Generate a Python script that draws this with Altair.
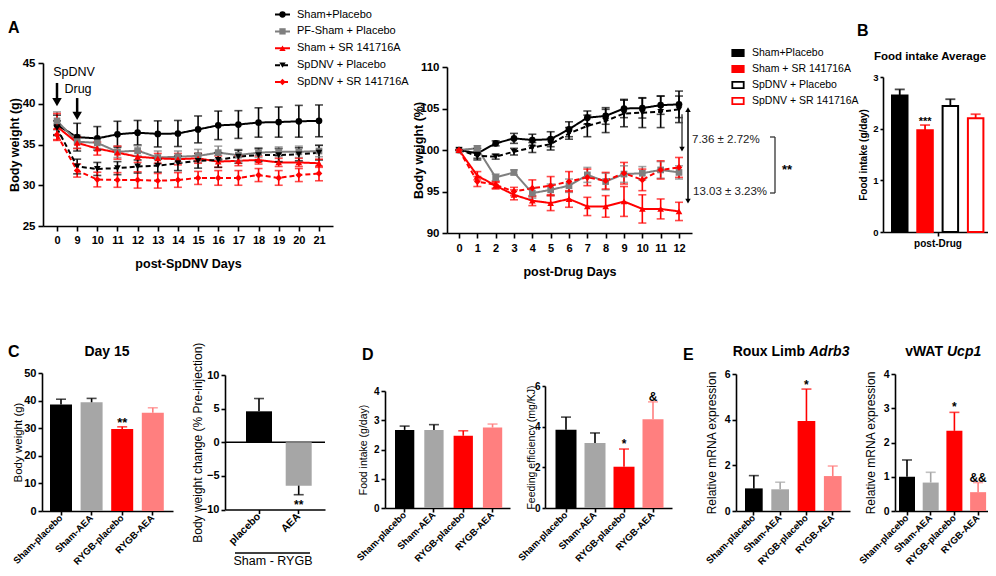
import altair as alt
import pandas as pd

FONT = "Liberation Sans"
W, H = 980, 560

# ---------------- Panel A (left): body weight after SpDNV ----------------
a_days = ["0", "9", "10", "11", "12", "13", "14", "15", "16", "17", "18", "19", "20", "21"]
a_series = ["Sham+Placebo", "PF-Sham + Placebo", "Sham + SR 141716A",
            "SpDNV + Placebo", "SpDNV + SR 141716A"]
a_sham_placebo = [37.4, 35.9, 35.75, 36.25, 36.45, 36.3, 36.35, 36.85, 37.35, 37.45, 37.7, 37.75, 37.85, 37.9]
a_sham_placebo_err = [1.2, 1.7, 1.45, 1.6, 1.5, 1.6, 1.6, 1.65, 1.75, 1.7, 1.8, 1.85, 1.95, 1.95]
a_pf_sham = [37.9, 35.35, 35.2, 34.1, 34.25, 33.4, 33.5, 33.6, 34.0, 33.7, 34.0, 34.1, 34.1, 34.2]
a_pf_sham_err = [1.1, 0.8, 0.7, 0.7, 0.6, 0.8, 0.7, 0.8, 0.8, 0.7, 0.6, 0.6, 0.7, 0.7]
a_sham_sr = [37.2, 35.2, 34.5, 34.0, 33.5, 33.3, 33.2, 33.3, 32.9, 33.0, 33.1, 32.8, 32.8, 32.7]
a_sham_sr_err = [1.6, 0.7, 0.8, 0.8, 0.7, 0.6, 0.7, 0.6, 0.7, 0.6, 0.5, 0.5, 0.5, 0.5]
a_spdnv_placebo = [37.0, 32.3, 32.0, 32.1, 32.3, 32.4, 32.7, 33.0, 33.1, 33.5, 33.7, 33.7, 33.8, 34.0]
a_spdnv_placebo_err = [0.9, 0.9, 0.8, 0.8, 0.8, 0.8, 0.9, 0.9, 0.9, 0.8, 0.8, 0.8, 0.8, 0.9]
a_spdnv_sr = [36.2, 31.8, 30.7, 30.65, 30.65, 30.55, 30.65, 30.9, 30.9, 30.9, 31.25, 30.9, 31.25, 31.45]
a_spdnv_sr_err = [0.7, 0.8, 0.9, 0.9, 1.0, 0.9, 0.9, 0.8, 0.9, 0.9, 0.8, 0.9, 0.8, 0.9]

# ---------------- Panel A (right): body weight (%) after drug ----------------
ar_days = ["0", "1", "2", "3", "4", "5", "6", "7", "8", "9", "10", "11", "12"]
ar_sham_placebo = [100, 99.6, 100.8, 101.4, 101.2, 101.3, 102.5, 103.9, 104.1, 105.0, 105.05, 105.4, 105.5]
ar_sham_placebo_err = [0, 0.6, 0.3, 0.6, 0.7, 0.9, 0.9, 0.8, 1.0, 1.1, 1.2, 1.1, 1.6]
ar_pf_sham = [100, 100.2, 96.7, 97.3, 94.8, 95.2, 95.7, 97.0, 96.2, 97.1, 97.2, 97.6, 97.3]
ar_pf_sham_err = [0, 0.3, 0.4, 0.3, 0.6, 0.7, 0.8, 0.9, 1.0, 1.0, 0.8, 1.0, 0.8]
ar_sham_sr = [100, 96.9, 95.7, 94.6, 93.9, 93.6, 94.1, 93.2, 93.2, 93.8, 92.9, 92.9, 92.6]
ar_sham_sr_err = [0, 0.5, 0.4, 0.6, 0.6, 0.9, 1.0, 1.1, 1.3, 1.8, 1.7, 1.2, 1.1]
ar_spdnv_placebo = [100, 99.3, 99.2, 99.8, 100.3, 100.7, 102.0, 102.9, 103.5, 104.4, 104.5, 104.6, 104.9]
ar_spdnv_placebo_err = [0, 0.5, 0.3, 0.4, 0.6, 0.7, 0.7, 1.3, 1.4, 1.6, 1.8, 1.9, 1.6]
ar_spdnv_sr = [100, 96.2, 95.8, 95.0, 95.4, 95.7, 96.2, 96.7, 96.3, 97.2, 96.4, 97.6, 97.9]
ar_spdnv_sr_err = [0, 0.6, 0.4, 0.5, 1.0, 1.1, 1.2, 1.0, 1.0, 1.3, 1.3, 1.1, 1.2]
ar_legend = ["Sham+Placebo", "Sham + SR 141716A", "SpDNV + Placebo", "SpDNV + SR 141716A"]
ar_notes = ["7.36 \u00b1 2.72%", "13.03 \u00b1 3.23%"]

# ---------------- Panel B: food intake average ----------------
b_groups = ["Sham+Placebo", "Sham + SR 141716A", "SpDNV + Placebo", "SpDNV + SR 141716A"]
b_means = [2.64, 1.97, 2.44, 2.20]
b_errs = [0.12, 0.10, 0.13, 0.08]
b_sig = ["", "***", "", ""]

# ---------------- Panels C-E ----------------
ce_groups = ["Sham-placebo", "Sham-AEA", "RYGB-placebo", "RYGB-AEA"]
c_means = [38.6, 39.4, 29.7, 35.6]
c_errs = [1.9, 1.4, 0.8, 1.8]
c_sig = ["", "", "**", ""]
c2_groups = ["placebo", "AEA"]
c2_means = [4.6, -6.45]
c2_errs = [1.9, 1.35]
c2_sig = ["", "**"]
d1_means = [2.67, 2.67, 2.47, 2.75]
d1_errs = [0.13, 0.18, 0.17, 0.12]
d1_sig = ["", "", "", ""]
d2_means = [3.85, 3.2, 2.03, 4.37]
d2_errs = [0.62, 0.49, 0.87, 0.85]
d2_sig = ["", "", "*", "&"]
e1_means = [0.99, 0.95, 3.94, 1.53]
e1_errs = [0.56, 0.31, 1.4, 0.44]
e1_sig = ["", "", "*", ""]
e2_means = [1.0, 0.83, 2.34, 0.55]
e2_errs = [0.49, 0.3, 0.54, 0.28]
e2_sig = ["", "", "*", "&&"]

BLACK, GRAY, RED, PINK, LGRAY = "#000000", "#7f7f7f", "#ff0000", "#ff7f7f", "#a6a6a6"


# ---------------- helpers ----------------
def point_scale(domain, r0, r1, first, last):
    n = len(domain)
    step = (last - first) / (n - 1)
    pad = ((r1 - r0) / step - (n - 1)) / 2
    align = (first - r0) / ((r1 - r0) - step * (n - 1))
    return alt.Scale(type="point", domain=domain, range=[r0, r1], padding=pad, align=align, round=False)


def band_scale(domain, r0, r1, left, w, s):
    n = len(domain)
    pi = 1 - w / s
    po = ((r1 - r0) / s - (n - pi)) / 2
    align = (left - r0) / ((r1 - r0) - s * (n - pi))
    return alt.Scale(type="band", domain=domain, range=[r0, r1], paddingInner=pi,
                     paddingOuter=po, align=align, round=False)


def lin(domain, ybot, ytop):
    return alt.Scale(domain=domain, range=[ybot, ytop], nice=False, zero=False)


def yaxis(x0, values, title, title_x, tsize, tweight="normal", lsize=11, tick=5, lpad=2):
    return alt.Axis(orient="left", offset=-x0, values=values, title=title, titleX=title_x,
                    titleFontSize=tsize, titleFontWeight=tweight, labelFontSize=lsize,
                    labelFontWeight="bold", tickSize=tick, labelPadding=lpad, format="d")


def xaxis(y0, title=None, angle=0, lsize=11, tick=5, lpad=3, title_y=None, tsize=12):
    kw = dict(orient="bottom", offset=y0 - H, labelAngle=angle, labelFontSize=lsize,
              labelFontWeight="bold", tickSize=tick, labelPadding=lpad)
    if title is not None:
        kw.update(title=title, titleFontSize=tsize, titleFontWeight="bold")
        if title_y is not None:
            kw.update(titleY=title_y)
    else:
        kw.update(title=None)
    if angle:
        kw.update(labelAlign="right", labelBaseline="middle")
    return alt.Axis(**kw)


ONE = pd.DataFrame({"k": [0]})


def label(text, x, y, size=12, weight="normal", align="center", baseline="middle",
          style="normal", color="black"):
    return alt.Chart(pd.DataFrame({"t": [text]})).mark_text(
        font=FONT, fontSize=size, fontWeight=weight, align=align, baseline=baseline,
        fontStyle=style, color=color).encode(text="t:N", x=alt.value(x), y=alt.value(y))


def hline(x1, x2, y, width=1.5, color="black"):
    return alt.Chart(ONE).mark_rule(strokeWidth=width, color=color).encode(
        x=alt.value(x1), x2=alt.value(x2), y=alt.value(y))


def vline(x, y1, y2, width=1.5, color="black"):
    return alt.Chart(ONE).mark_rule(strokeWidth=width, color=color).encode(
        x=alt.value(x), y=alt.value(y1), y2=alt.value(y2))


def long_df(days, series, means, errs):
    rows = []
    for s, m, e in zip(series, means, errs):
        for i, (d, v, er) in enumerate(zip(days, m, e)):
            rows.append(dict(series=s, day=d, idx=i, value=v, lo=v - er, hi=v + er))
    return pd.DataFrame(rows)


A_COLORS = [BLACK, GRAY, RED, BLACK, RED]
A_DASH = [[1, 0], [1, 0], [1, 0], [5, 3], [5, 3]]
A_SHAPES = ["circle", "square", "triangle-up", "triangle-down", "diamond"]


def a_encodings(series):
    col = alt.Color("series:N", scale=alt.Scale(domain=series, range=A_COLORS), legend=None)
    dash = alt.StrokeDash("series:N", scale=alt.Scale(domain=series, range=A_DASH), legend=None)
    shp = alt.Shape("series:N", scale=alt.Scale(domain=series, range=A_SHAPES), legend=None)
    return col, dash, shp


def line_panel(df, xsc, ysc, xax, yax):
    col, dash, shp = a_encodings(a_series)
    base = alt.Chart(df)
    xn = alt.X("day:O", scale=xsc, axis=None)
    lines = base.mark_line(strokeWidth=2).encode(
        x=alt.X("day:O", scale=xsc, axis=xax), y=alt.Y("value:Q", scale=ysc, axis=yax),
        color=col, strokeDash=dash, order="idx:Q")
    rules = base.mark_rule(strokeWidth=1.6).encode(
        x=xn, y=alt.Y("lo:Q", scale=ysc, axis=None), y2="hi:Q", color=col)
    cap_lo = base.mark_tick(size=8, thickness=1.6).encode(
        x=xn, y=alt.Y("lo:Q", scale=ysc, axis=None), color=col)
    cap_hi = base.mark_tick(size=8, thickness=1.6).encode(
        x=xn, y=alt.Y("hi:Q", scale=ysc, axis=None), color=col)
    pts = base.mark_point(filled=True, size=45, opacity=1).encode(
        x=xn, y=alt.Y("value:Q", scale=ysc, axis=None), color=col, shape=shp)
    return [lines, rules, cap_lo, cap_hi, pts]


def bar_panel(groups, means, errs, sigs, xsc, ysc, xax, yax, bar_colors, err_colors,
              sig_dy=0, sig_size=12, cap=10):
    his = [m + e if m >= 0 else m - e for m, e in zip(means, errs)]
    df = pd.DataFrame({"group": groups, "mean": means, "hi": his, "sig": sigs})
    fillc = alt.Color("group:N", scale=alt.Scale(domain=groups, range=bar_colors), legend=None)
    errc = alt.Color("group:N", scale=alt.Scale(domain=groups, range=err_colors), legend=None)
    xn = alt.X("group:N", scale=xsc, axis=None)
    base = alt.Chart(df)
    bars = base.mark_bar().encode(
        x=alt.X("group:N", scale=xsc, axis=xax),
        y=alt.Y("mean:Q", scale=ysc, axis=yax, stack=None), color=fillc)
    rules = base.mark_rule(strokeWidth=1.6).encode(
        x=xn, y=alt.Y("mean:Q", scale=ysc, axis=None), y2="hi:Q", color=errc)
    caps = base.mark_tick(size=cap, thickness=1.6).encode(
        x=xn, y=alt.Y("hi:Q", scale=ysc, axis=None), color=errc)
    sig = base.mark_text(font=FONT, fontWeight="bold", fontSize=sig_size,
                         baseline="alphabetic", dy=sig_dy, color="black").encode(
        x=xn, y=alt.Y("hi:Q", scale=ysc, axis=None), text="sig:N")
    return [bars, rules, caps, sig]


layers = []

# ================= Panel A left =================
xA = point_scale(a_days, 35, 325, 49, 311)
yA = lin([25, 45], 218, 55)
dfA = long_df(a_days, a_series,
              [a_sham_placebo, a_pf_sham, a_sham_sr, a_spdnv_placebo, a_spdnv_sr],
              [a_sham_placebo_err, a_pf_sham_err, a_sham_sr_err, a_spdnv_placebo_err, a_spdnv_sr_err])
layers += line_panel(
    dfA, xA, yA,
    xaxis(218, "post-SpDNV Days", lsize=11, tick=5, lpad=3, title_y=31, tsize=12.5),
    yaxis(35, [25, 30, 35, 40, 45], "Body weight (g)", -22, 12.5, "bold", lsize=11.5, tick=5, lpad=3))

# arrows (SpDNV / Drug)
arrows = pd.DataFrame({"day": ["0", "9"], "top": [42.55, 40.7], "head": [40.2, 38.5]})
layers.append(alt.Chart(arrows).mark_rule(strokeWidth=2.5, color="black").encode(
    x=alt.X("day:O", scale=xA, axis=None), y=alt.Y("top:Q", scale=yA, axis=None), y2="head:Q"))
layers.append(alt.Chart(arrows).mark_point(shape="triangle-down", filled=True, size=90,
                                           color="black", opacity=1).encode(
    x=alt.X("day:O", scale=xA, axis=None), y=alt.Y("head:Q", scale=yA, axis=None)))
layers.append(label("SpDNV", 66, 64, size=12.5))
layers.append(label("Drug", 70, 81, size=12.5))
layers.append(label("A", 0, 20, size=16, weight="bold", align="left"))

# legend for A left
colL, dashL, shpL = a_encodings(a_series)
legA = pd.DataFrame({"series": a_series})
yLeg = alt.Scale(type="point", domain=a_series, range=[6.5, 74], padding=0)
layers.append(alt.Chart(legA).mark_rule(strokeWidth=2).encode(
    y=alt.Y("series:N", scale=yLeg, axis=None), x=alt.value(267), x2=alt.value(282),
    color=colL, strokeDash=dashL))
layers.append(alt.Chart(legA).mark_point(filled=True, size=40, opacity=1).encode(
    y=alt.Y("series:N", scale=yLeg, axis=None), x=alt.value(274.5), color=colL, shape=shpL))
layers.append(alt.Chart(legA).mark_text(font=FONT, fontSize=11, align="left",
                                        baseline="middle", color="black").encode(
    y=alt.Y("series:N", scale=yLeg, axis=None), x=alt.value(289), text="series:N"))

# ================= Panel A right =================
xAR = point_scale(ar_days, 439, 684, 451, 671)
yAR = lin([90, 110], 225, 59)
dfAR = long_df(ar_days, a_series,
               [ar_sham_placebo, ar_pf_sham, ar_sham_sr, ar_spdnv_placebo, ar_spdnv_sr],
               [ar_sham_placebo_err, ar_pf_sham_err, ar_sham_sr_err, ar_spdnv_placebo_err, ar_spdnv_sr_err])
layers += line_panel(
    dfAR, xAR, yAR,
    xaxis(225, "post-Drug Days", lsize=11, tick=5, lpad=4.5, title_y=32, tsize=12.5),
    yaxis(439, [90, 95, 100, 105, 110], "Body weight (%)", -22, 12.5, "bold", lsize=11.5, tick=5, lpad=3))

# difference arrows
arr2 = pd.DataFrame({"top": [104.3, 104.85], "bot": [100.1, 93.85]})
layers.append(alt.Chart(arr2.iloc[[0]]).mark_rule(strokeWidth=1.5, color="#444444").encode(
    x=alt.value(674), y=alt.Y("top:Q", scale=yAR, axis=None), y2="bot:Q"))
layers.append(alt.Chart(arr2.iloc[[1]]).mark_rule(strokeWidth=1.5, color="black").encode(
    x=alt.value(680), y=alt.Y("top:Q", scale=yAR, axis=None), y2="bot:Q"))
layers.append(alt.Chart(arr2.iloc[[0]]).mark_point(shape="triangle-down", filled=True, size=30,
                                                   color="black", opacity=1).encode(
    x=alt.value(674), y=alt.Y("bot:Q", scale=yAR, axis=None)))
layers.append(alt.Chart(arr2.iloc[[1]]).mark_point(shape="triangle-down", filled=True, size=30,
                                                   color="black", opacity=1).encode(
    x=alt.value(680), y=alt.Y("bot:Q", scale=yAR, axis=None)))
layers.append(alt.Chart(arr2.iloc[[1]]).mark_point(shape="triangle-up", filled=True, size=30,
                                                   color="black", opacity=1).encode(
    x=alt.value(680), y=alt.Y("top:Q", scale=yAR, axis=None)))
layers.append(label(ar_notes[0], 684, 132, size=11.5, align="left", color="#222222"))
layers.append(label(ar_notes[1], 685, 184, size=11.5, align="left", color="#222222"))
layers.append(vline(767, 129, 185, width=1.3, color="#333333"))
layers.append(hline(762, 767, 129, width=1.3, color="#333333"))
layers.append(hline(762, 767, 185, width=1.3, color="#333333"))
layers.append(label("**", 774, 166, size=13, weight="bold", align="left", baseline="alphabetic"))

# legend for A right (bar style)
RECT = "M-1,-0.55L1,-0.55L1,0.55L-1,0.55Z"
legB = pd.DataFrame({"series": ar_legend})
yLegB = alt.Scale(type="point", domain=ar_legend, range=[45, 93], padding=0)
fillB = alt.Fill("series:N", scale=alt.Scale(domain=ar_legend, range=[BLACK, RED, "#ffffff", "#ffffff"]), legend=None)
strokeB = alt.Stroke("series:N", scale=alt.Scale(domain=ar_legend, range=[BLACK, RED, BLACK, RED]), legend=None)
layers.append(alt.Chart(legB).mark_point(shape=RECT, size=130, strokeWidth=1.8, opacity=1,
                                         fillOpacity=1).encode(
    y=alt.Y("series:N", scale=yLegB, axis=None), x=alt.value(730), fill=fillB, stroke=strokeB))
layers.append(alt.Chart(legB).mark_text(font=FONT, fontSize=10.5, align="left",
                                        baseline="middle", color="black").encode(
    y=alt.Y("series:N", scale=yLegB, axis=None), x=alt.value(744), text="series:N"))

# ================= Panel B =================
xB = alt.Scale(type="band", domain=["post-Drug"], range=[875, 985], paddingInner=0, paddingOuter=0)
xoB = band_scale(b_groups, 0, 110, 9, 15.5, 25.3)
yB = lin([0, 3], 224, 69)
dfB = pd.DataFrame({"cat": ["post-Drug"] * 4, "group": b_groups, "mean": b_means,
                    "hi": [m + e for m, e in zip(b_means, b_errs)], "sig": b_sig})
fB = alt.Fill("group:N", scale=alt.Scale(domain=b_groups, range=[BLACK, RED, "#ffffff", "#ffffff"]), legend=None)
sB = alt.Stroke("group:N", scale=alt.Scale(domain=b_groups, range=[BLACK, RED, BLACK, RED]), legend=None)
cB = alt.Color("group:N", scale=alt.Scale(domain=b_groups, range=[BLACK, RED, BLACK, RED]), legend=None)
xBn = alt.X("cat:N", scale=xB, axis=None)
xoBe = alt.XOffset("group:N", scale=xoB)
layers.append(alt.Chart(dfB).mark_bar(strokeWidth=2).encode(
    x=alt.X("cat:N", scale=xB, axis=xaxis(224, None, lsize=10, tick=4, lpad=2)),
    xOffset=xoBe,
    y=alt.Y("mean:Q", scale=yB, stack=None,
            axis=yaxis(875, [0, 1, 2, 3], "Food intake (g/day)", -15, 10, "bold", lsize=9.5, tick=3, lpad=2)),
    fill=fB, stroke=sB))
layers.append(alt.Chart(dfB).mark_rule(strokeWidth=1.8).encode(
    x=xBn, xOffset=xoBe, y=alt.Y("mean:Q", scale=yB, axis=None), y2="hi:Q", color=cB))
layers.append(alt.Chart(dfB).mark_tick(size=10, thickness=1.8).encode(
    x=xBn, xOffset=xoBe, y=alt.Y("hi:Q", scale=yB, axis=None), color=cB))
layers.append(alt.Chart(dfB).mark_text(font=FONT, fontWeight="bold", fontSize=11,
                                       baseline="alphabetic", color="black").encode(
    x=xBn, xOffset=xoBe, y=alt.Y("hi:Q", scale=yB, axis=None), text="sig:N"))
layers.append(label("B", 849, 23, size=16, weight="bold", align="left"))
layers.append(label("Food intake Average", 922, 49, size=11.5, weight="bold"))

# ================= Panel C left =================
ROW2_COLORS = [BLACK, LGRAY, RED, PINK]
XL = 9.5  # rotated category label size
xC = band_scale(ce_groups, 34, 165, 42, 22, 30.6)
yC = lin([0, 50], 503, 365)
layers += bar_panel(ce_groups, c_means, c_errs, c_sig, xC, yC,
                    xaxis(503, None, angle=-45, lsize=XL, tick=4, lpad=1),
                    yaxis(34, [0, 10, 20, 30, 40, 50], "Body weight (g)", -19, 11.5, lsize=11, tick=4),
                    ROW2_COLORS, [BLACK, BLACK, RED, PINK], sig_size=13)
layers.append(label("C", 0, 344, size=16, weight="bold", align="left"))
layers.append(label("Day 15", 99, 344, size=14, weight="bold"))

# ================= Panel C right =================
xC2 = band_scale(c2_groups, 217, 317, 238, 26, 39.7)
yC2 = lin([-10, 10], 501.5, 367)
layers.append(alt.Chart(pd.DataFrame({"z": [0]})).mark_rule(strokeWidth=1.5, color="black").encode(
    y=alt.Y("z:Q", scale=yC2, axis=None), x=alt.value(217), x2=alt.value(317)))
layers += bar_panel(c2_groups, c2_means, c2_errs, c2_sig, xC2, yC2,
                    xaxis(501.5, None, angle=-45, lsize=10.5, tick=4, lpad=1),
                    yaxis(217, [-10, -5, 0, 5, 10], "Body weight change (% Pre-injection)", -21, 12, lsize=11, tick=4),
                    [BLACK, LGRAY], [BLACK, BLACK], sig_dy=14, sig_size=12)
layers.append(hline(227, 302, 545, width=1.5))
layers.append(label("Sham - RYGB", 265, 553, size=12.5))

# ================= Panel D left =================
xD1 = band_scale(ce_groups, 377, 502, 387, 19.3, 29.3)
yD1 = lin([0, 4], 500, 383)
layers += bar_panel(ce_groups, d1_means, d1_errs, d1_sig, xD1, yD1,
                    xaxis(500, None, angle=-45, lsize=XL, tick=4, lpad=1),
                    yaxis(377, [0, 1, 2, 3, 4], "Food intake (g/day)", -16.5, 10.5, lsize=10, tick=4),
                    ROW2_COLORS, [BLACK, BLACK, RED, PINK])
layers.append(label("D", 354, 347, size=16, weight="bold", align="left"))

# ================= Panel D right =================
xD2 = band_scale(ce_groups, 537, 664, 547.5, 21, 29)
yD2 = lin([0, 6], 500, 378)
layers += bar_panel(ce_groups, d2_means, d2_errs, d2_sig, xD2, yD2,
                    xaxis(500, None, angle=-45, lsize=XL, tick=4, lpad=1),
                    yaxis(537, [0, 2, 4, 6], "Feeding efficiency (mg/KJ)", -9, 10.5, lsize=10, tick=3),
                    ROW2_COLORS, [BLACK, BLACK, RED, PINK], sig_dy=-1)

# ================= Panel E left =================
xE1 = band_scale(ce_groups, 728, 842, 737, 17.7, 26.3)
yE1 = lin([0, 6], 503, 366)
layers += bar_panel(ce_groups, e1_means, e1_errs, e1_sig, xE1, yE1,
                    xaxis(503, None, angle=-45, lsize=XL, tick=4, lpad=1),
                    yaxis(728, [0, 2, 4, 6], "Relative mRNA expression", -18, 12, lsize=10.5, tick=4),
                    ROW2_COLORS, [BLACK, LGRAY, RED, PINK])
layers.append(label("E", 675, 347, size=16, weight="bold", align="left"))
layers.append(label("Roux Limb", 797, 344, size=14, weight="bold", align="right"))
layers.append(label("Adrb3", 801, 344, size=14, weight="bold", align="left", style="italic"))

# ================= Panel E right =================
xE2 = band_scale(ce_groups, 887, 985, 891, 16, 23.7)
yE2 = lin([0, 4], 503, 366)
layers += bar_panel(ce_groups, e2_means, e2_errs, e2_sig, xE2, yE2,
                    xaxis(503, None, angle=-45, lsize=XL, tick=4, lpad=1),
                    yaxis(887, [0, 1, 2, 3, 4], "Relative mRNA expression", -17.5, 12, lsize=10.5, tick=4),
                    ROW2_COLORS, [BLACK, LGRAY, RED, PINK], sig_dy=-1)
layers.append(label("vWAT", 935, 344, size=14, weight="bold", align="right"))
layers.append(label("Ucp1", 939, 344, size=14, weight="bold", align="left", style="italic"))

chart = alt.layer(*layers).resolve_scale(
    x="independent", y="independent", color="independent", fill="independent",
    stroke="independent", shape="independent", strokeDash="independent",
    xOffset="independent"
).properties(
    width=W, height=H, autosize=alt.AutoSizeParams(type="none"), padding=0
).configure_view(stroke=None).configure_axis(
    grid=False, domainColor="black", tickColor="black", labelColor="black",
    titleColor="black", labelFont=FONT, titleFont=FONT, domainWidth=1.6, tickWidth=1.6
)

chart.save("out.html", embed_options={"renderer": "svg", "actions": False})
